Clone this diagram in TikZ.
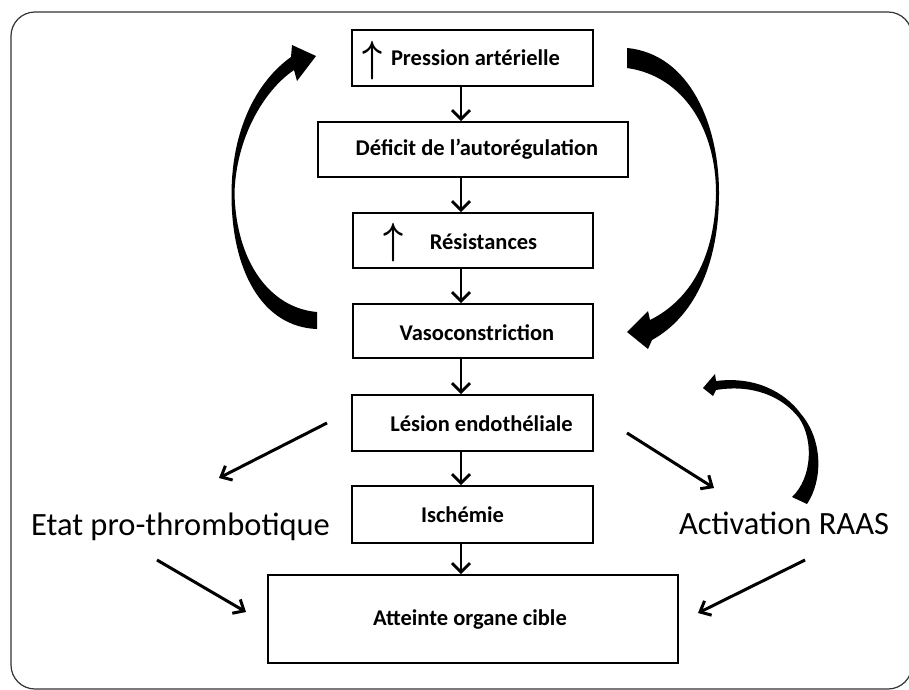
\documentclass[tikz,border=0pt]{standalone}
\usepackage{graphicx}
\usepackage{fontspec}
\setmainfont{Carlito}
\usetikzlibrary{arrows.meta}
\begin{document}
\begin{tikzpicture}[x=1pt,y=-1pt,
  box/.style={draw=black, line width=1.8pt, inner sep=0pt},
  lbl/.style={font=\fontsize{22.5}{26}\selectfont\bfseries, inner sep=0pt, anchor=base},
  big/.style={font=\fontsize{32.5}{36}\selectfont, inner sep=0pt, anchor=base},
  uparr/.style={font=\Huge\boldmath, inner sep=0pt},
  varrow/.style={line width=2.8pt, -{Straight Barb[length=9pt,width=18pt]}},
  darrow/.style={line width=3pt, -{Straight Barb[length=9pt,width=16pt]}},
  fatarrow/.style={fill=black, draw=none}
]
\useasboundingbox (0,0) rectangle (909,689);
\fill[white] (0,0) rectangle (909,689);
% frame
\draw[line width=1.2pt, draw=black!80, rounded corners=24pt] (11,12) rectangle (912,689);

% boxes
\node[box, minimum width=241pt, minimum height=56pt] (P) at (472.5,58) {};
\node[box, minimum width=310pt, minimum height=55pt] (D) at (473,149.5) {};
\node[box, minimum width=240pt, minimum height=55pt] (R) at (473,240.5) {};
\node[box, minimum width=240pt, minimum height=54pt] (V) at (473,331) {};
\node[box, minimum width=241pt, minimum height=56pt] (L) at (472.5,423) {};
\node[box, minimum width=241pt, minimum height=57pt] (I) at (472.5,514.5) {};
\node[box, minimum width=410pt, minimum height=88pt] (A) at (473,619) {};

% labels
\node[uparr] (pu) at (373,60.5) {\scalebox{1.4}[1.75]{$\uparrow$}};
\node[lbl] (pt) at (475.5,65) {Pression artérielle};
\node[lbl] (dt) at (477,155) {Déficit de l’autorégulation};
\node[uparr] (ru) at (394,242.5) {\scalebox{1.4}[1.75]{$\uparrow$}};
\node[lbl] (rt) at (483.5,249) {Résistances};
\node[lbl] (vt) at (477,340) {Vasoconstriction};
\node[lbl] (lt) at (481.5,431) {Lésion endothéliale};
\node[lbl] (it) at (462.5,522) {Ischémie};
\node[lbl] (at) at (470,625) {Atteinte organe cible};
\node[big] (etat) at (180.5,535) {Etat pro-thrombotique};
\node[big] (raas) at (784,534) {Activation RAAS};

% vertical arrows
\coordinate (ax) at (461,0);
\draw[varrow] (P.south -| ax) -- (D.north -| ax);
\draw[varrow] (D.south -| ax) -- (R.north -| ax);
\draw[varrow] (R.south -| ax) -- (V.north -| ax);
\draw[varrow] (V.south -| ax) -- (L.north -| ax);
\draw[varrow] (L.south -| ax) -- (I.north -| ax);
\draw[varrow] (I.south -| ax) -- (A.north -| ax);

% diagonal arrows
\coordinate (d1s) at (327,423);
\coordinate (d1e) at (219,478);
\coordinate (d2s) at (157,560);
\coordinate (d2e) at (246,612);
\coordinate (d3s) at (627,433);
\coordinate (d3e) at (714,488);
\coordinate (d4s) at (805,560);
\coordinate (d4e) at (698,613);
\draw[darrow] (d1s) -- (d1e);
\draw[darrow] (d2s) -- (d2e);
\draw[darrow] (d3s) -- (d3e);
\draw[darrow] (d4s) -- (d4e);

% left big curved arrow
\fill[fatarrow] (317,329)
  .. controls (262,327) and (231,270) .. (231.5,193)
  .. controls (232,130) and (256,82) .. (291,57)
  -- (292,45) -- (316,56) -- (297,81) -- (294,70)
  .. controls (262,92) and (236,140) .. (234.5,193)
  .. controls (236,262) and (270,308) .. (317,312) -- cycle;

% right big curved arrow
\fill[fatarrow] (627,48)
  .. controls (690,54) and (719,125) .. (719,193)
  .. controls (719,268) and (692,318) .. (652,340)
  -- (648,349) -- (627,332) -- (648,311) -- (650,320)
  .. controls (690,300) and (715,258) .. (716,193)
  .. controls (716,130) and (684,76) .. (627,68) -- cycle;

% RAAS curved arrow
\fill[fatarrow] (807,504)
  .. controls (823,480) and (823,440) .. (801,414)
  .. controls (785,392) and (755,376) .. (716,381)
  -- (715,374) -- (703,388) -- (713,396) -- (716,390)
  .. controls (752,384) and (782,396) .. (799,418)
  .. controls (814,440) and (812,478) .. (792,497) -- cycle;
\end{tikzpicture}
\end{document}
